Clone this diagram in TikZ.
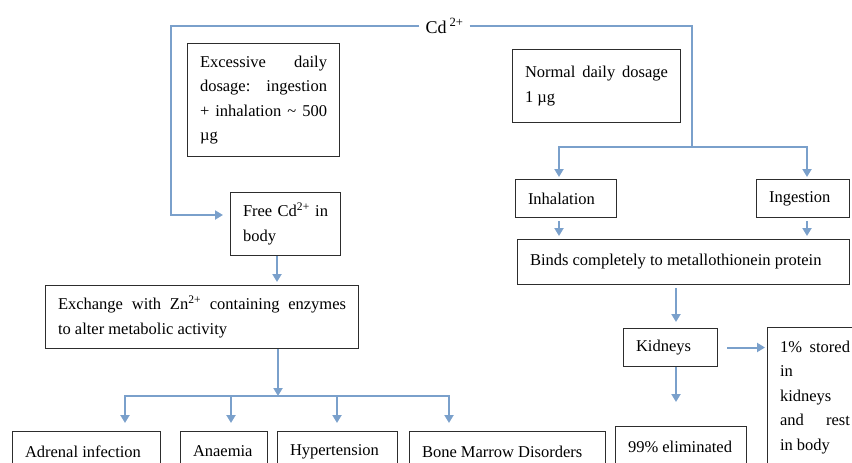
\documentclass[tikz,border=0pt]{standalone}
\usepackage{fontspec}
\setmainfont{Liberation Serif}
\usetikzlibrary{arrows.meta}
\definecolor{linkblue}{RGB}{122,160,203}
\definecolor{boxgray}{RGB}{45,45,45}
\begin{document}
\begin{tikzpicture}[x=1pt, y=-1pt,
	box/.style={draw=boxgray, line width=1pt, anchor=north west, inner xsep=12.5pt, inner ysep=0pt, align=justify, font=\fontsize{16.5}{24.5}\selectfont},
	link/.style={draw=linkblue, line width=2pt},
	arr/.style={link, -{Triangle[length=8pt,width=9pt]}}]
	\useasboundingbox (0,0) rectangle (852,463);
	\clip (0,0) rectangle (852,463);
	
	\node[font=\fontsize{18}{20}\selectfont, inner xsep=6pt, inner ysep=0pt] (cd) at (444.5,26) {Cd\,\textsuperscript{2+}};
	
	\node[box, text width=127pt, minimum height=113pt] (excess) at (187,43) {Excessive daily\linebreak dosage: ingestion\linebreak + inhalation \textasciitilde{} 500\linebreak µg};
	\node[box, text width=85pt, minimum height=63pt] (freecd) at (230,192) {Free Cd\textsuperscript{2+} in\linebreak body};
	\node[box, text width=288pt, minimum height=63pt] (exch) at (45,285) {Exchange with Zn\textsuperscript{2+} containing enzymes\linebreak to alter metabolic activity};
	\node[box, text width=123pt, minimum height=40pt] (adrenal) at (12,431) {Adrenal infection};
	\node[box, text width=62pt, minimum height=40pt] (anaemia) at (180,431) {Anaemia};
	\node[box, text width=95pt, minimum height=40pt] (hyper) at (277,431) {Hypertension};
	\node[box, text width=171pt, minimum height=40pt] (bone) at (409,431) {Bone Marrow Disorders};
	
	\node[box, text width=143pt, minimum height=73pt] (normal) at (512,49) {Normal daily dosage\linebreak 1 µg};
	\node[box, text width=76pt, minimum height=38pt] (inhal) at (515,179) {Inhalation};
	\node[box, text width=68pt, minimum height=38pt] (ingest) at (756,179) {Ingestion};
	\node[box, text width=307pt, minimum height=45pt] (binds) at (517,239) {Binds completely to metallothionein protein};
	\node[box, text width=69pt, minimum height=38pt] (kidneys) at (623,328) {Kidneys};
	\node[box, text width=70pt, minimum height=140pt] (stored) at (767,327) {1\% stored\linebreak in\linebreak kidneys\linebreak and rest\linebreak in body};
	\node[box, text width=106pt, minimum height=40pt] (elim) at (615,426) {99\% eliminated};
	
	\coordinate (lturn) at (171,215);
	\coordinate (rsplit) at (692,147);
	\coordinate (esplit) at (278,396);
	
	\draw[arr, shorten >=7pt] (cd.west) -| (lturn) -- (lturn -| freecd.west);
	\draw[link] (cd.east) -| (rsplit);
	\draw[arr, shorten >=2pt] (rsplit) -| (inhal.north -| 559,0);
	\draw[arr, shorten >=2pt] (rsplit) -| (ingest.north -| 807,0);
	\draw[arr, shorten <=3pt, shorten >=3pt] (inhal.south -| 559,0) -- (binds.north -| 559,0);
	\draw[arr, shorten <=3pt, shorten >=3pt] (ingest.south -| 807,0) -- (binds.north -| 807,0);
	\draw[arr, shorten <=3pt, shorten >=6pt] (binds.south -| 676,0) -- (kidneys.north -| 676,0);
	\draw[arr, shorten <=9pt, shorten >=2pt] (kidneys.east) -- (kidneys.east -| stored.west);
	\draw[arr, shorten >=24pt] (kidneys.south -| 676,0) -- (elim.north -| 676,0);
	
	\draw[arr, shorten >=3pt] (freecd.south -| 277,0) -- (exch.north -| 277,0);
	\draw[arr] (exch.south -| esplit) -- (esplit);
	\foreach \x/\n in {125/adrenal, 231/anaemia, 337/hyper, 449/bone}
	{
		\draw[arr, shorten >=8pt] (esplit) -| (\n.north -| \x,0);
	}
\end{tikzpicture}
\end{document}
